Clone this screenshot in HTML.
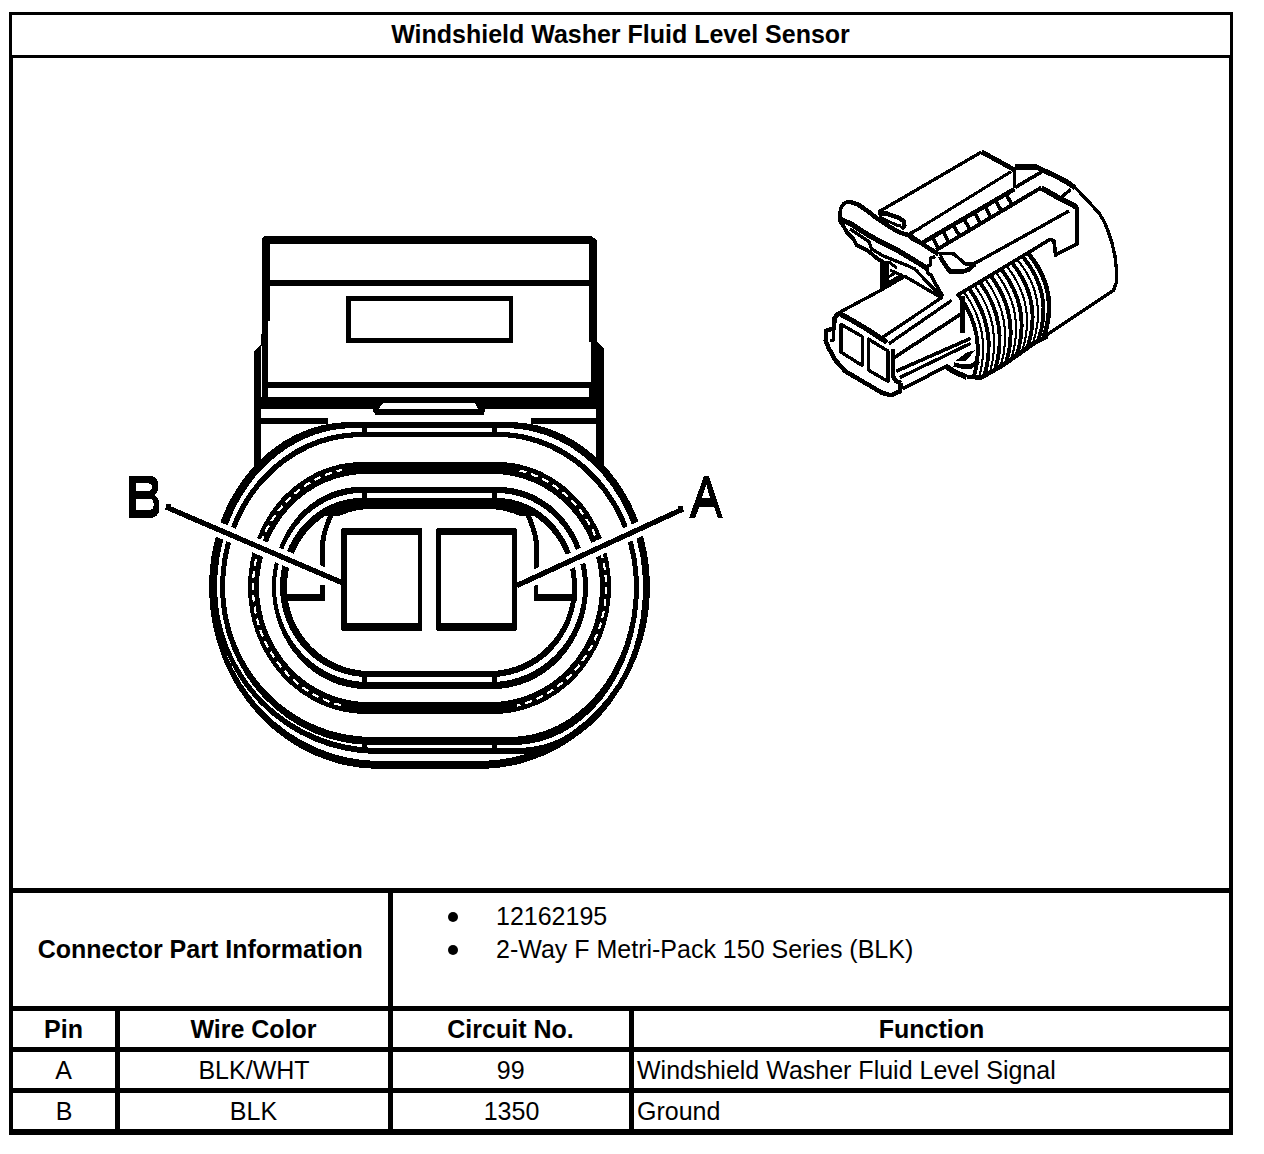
<!DOCTYPE html>
<html><head><meta charset="utf-8"><title>Windshield Washer Fluid Level Sensor</title>
<style>
html,body{margin:0;padding:0;background:#fff;overflow:hidden}
html{width:1264px;height:1154px}
body{width:1264px;height:1154px;position:relative;overflow:hidden;font-family:"Liberation Sans",sans-serif;color:#000}
.l{position:absolute;background:#000}
.t{position:absolute;font-size:25px;line-height:25px;white-space:nowrap;height:25px}
.b{position:absolute;width:10px;height:10px;border-radius:50%;background:#000}
svg{position:absolute;left:0;top:0}
</style></head><body>
<div class="l" style="left:9px;top:12px;width:1224px;height:3px"></div>
<div class="l" style="left:9px;top:12px;width:3px;height:46px"></div>
<div class="l" style="left:1230px;top:12px;width:3px;height:46px"></div>
<div class="l" style="left:9px;top:55px;width:1224px;height:3px"></div>
<div class="l" style="left:9px;top:58px;width:4px;height:1077px"></div>
<div class="l" style="left:1229px;top:58px;width:4px;height:1077px"></div>
<div class="l" style="left:9px;top:888px;width:1224px;height:5px"></div>
<div class="l" style="left:9px;top:1006px;width:1224px;height:5px"></div>
<div class="l" style="left:9px;top:1047px;width:1224px;height:5px"></div>
<div class="l" style="left:9px;top:1088px;width:1224px;height:5px"></div>
<div class="l" style="left:9px;top:1129px;width:1224px;height:6px"></div>
<div class="l" style="left:388px;top:888px;width:5px;height:247px"></div>
<div class="l" style="left:115px;top:1006px;width:5px;height:129px"></div>
<div class="l" style="left:629px;top:1006px;width:5px;height:129px"></div>
<div class="t" style="top:21.84px;font-weight:bold;left:380.5px;width:480px;text-align:center;">Windshield Washer Fluid Level Sensor</div>
<div class="t" style="top:936.84px;font-weight:bold;left:30.19999999999999px;width:340px;text-align:center;">Connector Part Information</div>
<div class="t" style="top:903.84px;left:496px;">12162195</div>
<div class="t" style="top:936.84px;left:496px;">2-Way F Metri-Pack 150 Series (BLK)</div>
<div class="t" style="top:1016.84px;font-weight:bold;left:-106.5px;width:340px;text-align:center;">Pin</div>
<div class="t" style="top:1016.84px;font-weight:bold;left:83.5px;width:340px;text-align:center;">Wire Color</div>
<div class="t" style="top:1016.84px;font-weight:bold;left:340.5px;width:340px;text-align:center;">Circuit No.</div>
<div class="t" style="top:1016.84px;font-weight:bold;left:761.5px;width:340px;text-align:center;">Function</div>
<div class="t" style="top:1057.84px;left:-106.5px;width:340px;text-align:center;">A</div>
<div class="t" style="top:1057.84px;left:84px;width:340px;text-align:center;">BLK/WHT</div>
<div class="t" style="top:1057.84px;left:340.7px;width:340px;text-align:center;">99</div>
<div class="t" style="top:1057.84px;left:637px;">Windshield Washer Fluid Level Signal</div>
<div class="t" style="top:1098.84px;left:-106px;width:340px;text-align:center;">B</div>
<div class="t" style="top:1098.84px;left:83.5px;width:340px;text-align:center;">BLK</div>
<div class="t" style="top:1098.84px;left:341.5px;width:340px;text-align:center;">1350</div>
<div class="t" style="top:1098.84px;left:637px;">Ground</div>
<div class="b" style="left:448px;top:912px"></div>
<div class="b" style="left:448px;top:945px"></div>
<svg width="1264" height="1154" viewBox="0 0 1264 1154" shape-rendering="crispEdges" fill="#000">
<!--MAIN-->
<path fill-rule="evenodd" d="M350,422 H509.0 A141.0,165 0 0 1 650,587 A171.0,182 0 0 1 479.0,769 H380 A171,182 0 0 1 209,587 A141,165 0 0 1 350,422 Z M352,425.5 H507.0 A138.5,161.5 0 0 1 645.5,587 A166.5,174 0 0 1 479.0,761 H380 A166.5,174 0 0 1 213.5,587 A138.5,161.5 0 0 1 352,425.5 Z"/>
<path fill-rule="evenodd" d="M352,424.5 H507.0 A139.5,162.5 0 0 1 646.5,587 A126.5,167 0 0 1 520,754 H378 A165.5,167 0 0 1 212.5,587 A139.5,162.5 0 0 1 352,424.5 Z M354,428 H505.0 A138.0,159 0 0 1 643,587 A125,161 0 0 1 518,748 H378 A161,161 0 0 1 217,587 A137,159 0 0 1 354,428 Z"/>
<path fill-rule="evenodd" d="M360,432 H499.0 A140.0,155 0 0 1 639,587 A125,158 0 0 1 514,745 H372 A152,158 0 0 1 220,587 A140,155 0 0 1 360,432 Z M362,437 H497.0 A137.0,150 0 0 1 634,587 A124,150 0 0 1 510,737 H372 A147,150 0 0 1 225,587 A137,150 0 0 1 362,437 Z"/>
<path fill-rule="evenodd" d="M362,462 H497.0 A114.0,125 0 0 1 611,587 A118.0,127 0 0 1 493.0,714 H366 A118,127 0 0 1 248,587 A114,125 0 0 1 362,462 Z M366,474 H493.0 A107.0,113 0 0 1 600,587 A109.0,115 0 0 1 491.0,702 H368 A109,115 0 0 1 259,587 A107,113 0 0 1 366,474 Z"/>
<path fill-rule="evenodd" d="M360,487 H499.0 A89.0,100 0 0 1 588,587 A95.0,102 0 0 1 493.0,689 H366 A94,102 0 0 1 272,587 A88,100 0 0 1 360,487 Z M362,493 H497.0 A86.0,94 0 0 1 583,587 A92.0,95 0 0 1 491.0,682 H368 A92,95 0 0 1 276,587 A86,94 0 0 1 362,493 Z"/>
<path fill-rule="evenodd" d="M362,498 H497.0 A80.0,89 0 0 1 577,587 A86.0,90 0 0 1 491.0,677 H368 A88,90 0 0 1 280,587 A82,89 0 0 1 362,498 Z M366,504 H493.0 A79.0,83 0 0 1 572,587 A83.0,84 0 0 1 489.0,671 H370 A83,84 0 0 1 287,587 A79,83 0 0 1 366,504 Z"/>
<clipPath id="c5"><rect x="270" y="490" width="320" height="26"/></clipPath>
<g clip-path="url(#c5)"><path fill-rule="evenodd" d="M366,503 H493.0 A80.0,84 0 0 1 573,587 A84.0,85 0 0 1 489.0,672 H370 A84,85 0 0 1 286,587 A80,84 0 0 1 366,503 Z M372,509 H487.0 A79.5,78 0 0 1 566.5,587 A79.5,79 0 0 1 487.0,666 H372 A79.5,79 0 0 1 292.5,587 A79.5,78 0 0 1 372,509 Z"/></g>
<clipPath id="c3"><path d="M230,450 H342 V730 H230 Z M517,450 H630 V730 H517 Z"/></clipPath>
<path clip-path="url(#c3)" fill="none" stroke="#fff" stroke-width="2.2" stroke-dasharray="7 5" d="M364,467.5 H495.0 A111.0,119.5 0 0 1 606,587 A114.0,121.5 0 0 1 492.0,708.5 H367 A114,121.5 0 0 1 253,587 A111,119.5 0 0 1 364,467.5 Z"/>
<rect fill="#000" x="362" y="427.5" width="5" height="5.0"/>
<rect fill="#000" x="491.5" y="427.5" width="5.0" height="5.0"/>
<rect fill="#000" x="362" y="492.0" width="5" height="6.5"/>
<rect fill="#000" x="491.5" y="492.0" width="5.0" height="6.5"/>
<rect fill="#000" x="362" y="676.0" width="5" height="6.5"/>
<rect fill="#000" x="491.5" y="676.0" width="5.0" height="6.5"/>
<rect fill="#000" x="362" y="744.0" width="5" height="5.0"/>
<rect fill="#000" x="491.5" y="744.0" width="5.0" height="5.0"/>
<path fill="none" stroke="#000" stroke-width="5" d="M332,513 Q326,526 324,535 Q322.5,541 322.5,548 V570 M527,513 Q533,526 535,535 Q536.5,541 536.5,548 V570.5"/>
<polygon fill="#000" points="320,584.5 325,584.5 325,601 287,601 287,593.5 320,593.5"/>
<polygon fill="#000" points="534,585 538,585 538,594 577,594 577,601 534,601"/>
<polygon fill="#000" points="264,236 591,236 597,240 597,244 262,244 262,239"/>
<rect fill="#000" x="262" y="240" width="8" height="81"/>
<rect fill="#000" x="262" y="321" width="6" height="77"/>
<rect fill="#000" x="261" y="334" width="2" height="12"/>
<polygon fill="#000" points="260,345 261,345 261,470 254,470 254,351"/>
<rect fill="#000" x="589" y="240" width="8" height="102"/>
<polygon fill="#000" points="591,342 597,342 604,349 604,398 591,398"/>
<rect fill="#000" x="589" y="382" width="3" height="16"/>
<rect fill="#000" x="596" y="397" width="8" height="71"/>
<rect fill="#000" x="270" y="280" width="319" height="6"/>
<path fill-rule="evenodd" d="M346,296 H513 V343 H346 Z M351,301 V338 H508.5 V301 Z"/>
<rect fill="#000" x="268" y="382" width="323" height="6"/>
<rect fill="#000" x="261" y="397" width="343" height="12"/>
<polygon fill="#fff" points="383,403 475,403 478,408.5 379,408.5"/>
<polygon fill="#000" points="373,408.5 485,408.5 484,415 375.5,415 373,411"/>
<rect fill="#000" x="261" y="418.3" width="67" height="5.699999999999989"/>
<rect fill="#000" x="530.5" y="418.3" width="66.5" height="5.699999999999989"/>
<path fill="none" stroke="#fff" stroke-width="15" d="M190,517.3 L342,582.7 M669,515.5 L517,585.5"/>
<path fill-rule="evenodd" d="M344,528 H422 V631 H344 Q341,631 341,628 V531 Q341,528 344,528 Z M346.5,535 V623 H418 V535 Z"/>
<path fill-rule="evenodd" d="M439,528 H514 Q517,528 517,531 V628 Q517,631 514,631 H439 Q436,631 436,628 V531 Q436,528 439,528 Z M441,535 V623 H512.2 V535 Z"/>
<path fill="none" stroke="#000" stroke-width="5.2" d="M166,507 L342,582.7 M683,509 L517,585.5"/>
<rect fill="#000" x="166" y="504" width="5" height="5"/>
<rect fill="#000" x="678" y="506" width="5" height="5"/>
<path fill-rule="evenodd" d="M129,477 Q129,476 130,476 H151 Q158,477 158,484 V488 Q158,493 154,495 Q159,497 159,503 V509 Q159,517 151,518 H130 Q129,518 129,517 Z M136,483.4 V491 H148 Q151.8,491 151.8,487.2 Q151.8,483.4 148,483.4 Z M136,498.6 V510 H149 Q153.7,510 153.7,504.3 Q153.7,498.6 149,498.6 Z"/>
<path fill-rule="evenodd" d="M689,518 L704,476 H709 L723,518 H718 L714,507 H699.4 L695,518 Z M702,498 L706.3,484.5 L710,498 Z"/>
<!--/MAIN-->
<g fill="none" stroke="#000" stroke-linejoin="round" stroke-linecap="butt"><path d="M1014.5,167 L1036,167 L1043.7,170.5 L1055.6,176 L1067.5,182.4 L1075.4,188" stroke-width="5.10"/>
<path d="M1075.4,188 L1083.3,196 L1091.2,204.6 L1099.1,213.3 L1104,221.2 L1108,231 L1112,243 L1115,256 L1116.5,270 L1116.5,282 L1113.5,290.5 L1045,336" stroke-width="3.30"/>
<path d="M878.5,212 L981.7,151.9" stroke-width="3.30"/>
<path d="M981.7,151.9 L1013.8,169.5" stroke-width="4.80"/>
<path d="M1014.5,168 L1014.5,188.3" stroke-width="3.00"/>
<path d="M1011,171.6 L910,234" stroke-width="3.00"/>
<path d="M1041.4,172 L1015,187.5" stroke-width="3.60"/>
<path d="M1014.5,189 L922,243" stroke-width="4.50"/>
<path d="M1041.4,187.5 L936,250.2" stroke-width="3.90"/>
<path d="M1006,194.0116 L1012,204.98712000000006" stroke-width="3.60"/>
<path d="M995.5,200.2024 L1001.5,211.23252000000005" stroke-width="3.60"/>
<path d="M985,206.3932 L991,217.47792000000004" stroke-width="3.60"/>
<path d="M974.5,212.584 L980.5,223.72332000000006" stroke-width="3.60"/>
<path d="M964,218.7748 L970,229.96872000000005" stroke-width="3.60"/>
<path d="M953.5,224.9656 L959.5,236.21412000000004" stroke-width="3.60"/>
<path d="M943,231.1564 L949,242.45952000000005" stroke-width="3.60"/>
<path d="M932.5,237.3472 L938.5,248.70492000000004" stroke-width="3.60"/>
<path d="M1041.4,188 L1059.6,198.3 L1073.8,205.4 L1077,208" stroke-width="5.40"/>
<path d="M1070.6,189.6 L1062,196.7" stroke-width="3.30"/>
<path d="M1077,207 L1077,243.8 L1055.5,255 L1054,240.5 L1050,239.5 L1047,241.3 L956.5,295.7" stroke-width="3.60"/>
<path d="M1069,211 L980,260.5 L973,264 L965.3,264 L954,254 L946.3,253.3 L938.5,254.3" stroke-width="3.30"/>
<path d="M974.6,264.4 L968,270 L962,271.6 L950,271.6 L943.8,262.8 L940,256.5" stroke-width="4.50"/>
<path d="M848.9,201.4 L858,204.5 L867.5,210.9 L875.4,217.2 L889.6,226.7 L899.1,232.2 L909.4,235.4 L920,242.5 L938.5,254.3" stroke-width="4.50"/>
<path d="M848.9,201.4 L843.7,203.7 L841,207.7 L839.8,213.2 L839.8,221.1 L842.9,225.1" stroke-width="3.60"/>
<path d="M841,219.6 L851.6,224.3 L867.5,234.6 L883.3,243.3 L899.1,251.2 L920,263.9 L927.5,269" stroke-width="5.25"/>
<path d="M842.9,225.1 L846.9,232.2 L853.2,238.5 L856.4,244.9 L867.5,250.4 L877,258.3 L883.3,262.3" stroke-width="3.90"/>
<path d="M850,229 L869,241.7 L871.4,248.8 L883.3,256 L907,265.4 L915.6,269.3" stroke-width="3.30"/>
<path d="M878.5,214.8 L885.7,213.2 L899.1,218 L903.9,221.1 L904.3,225.9 L901.5,229" stroke-width="4.50"/>
<path d="M879,217 L897,225.2 L901,225.5" stroke-width="3.00"/>
<path d="M920,228.3 L911,233 L911,238.5 L920,243.3" stroke-width="3.30"/>
<path d="M935.5,256.5 L930.6,258.2 L930.6,264.6 L927.5,266.1 L927.5,272.5 L931.4,275.6 L935.4,283.5 L940.1,292.2 L943.3,296.2" stroke-width="3.60"/>
<path d="M880,261 H888.5 V286 L880,290.5 Z" fill="#000" stroke="none"/>
<path d="M888.5,283 L903,274.5" stroke-width="3.60"/>
<path d="M888.5,277 L897,271.5" stroke-width="3.00"/>
<path d="M890,270 L905,277" stroke-width="3.00"/>
<path d="M889,262 L897,268" stroke-width="3.00"/>
<path d="M838.4,313 L880.8,290.3 L904.8,276.3 L941.5,297.8 L881,338.3" stroke-width="3.30"/>
<path d="M838.4,313 L851.6,320 L867.5,329.5 L879.3,337.4 L887.2,342.4" stroke-width="5.10"/>
<path d="M915.6,269.3 L918,272.5 L940.9,296.2" stroke-width="3.30"/>
<path d="M838.4,313 L834.6,318.1 L833.9,328.2 L826.3,330.8 L825.7,340.9 L828.9,348.5 L835.2,359.9 L845.3,371.3 L882,392.8 L890.9,395.3 L899.7,391.5 L901,382.7" stroke-width="4.50"/>
<path d="M833.9,328.2 L833.9,340 L830,341" stroke-width="3.00"/>
<path d="M841.1,324.4 L862.2,336.5 L862.2,365.5 L841.1,352.3 Z" stroke-width="3.30"/>
<path d="M868.3,339 L887.9,351 L887.9,381.4 L868.3,370 Z" stroke-width="3.30"/>
<path d="M892.8,348.5 L892.8,376.3 L896,381 L901,383" stroke-width="4.50"/>
<path d="M888.8,343.8 L951.6,300.4" stroke-width="3.30"/>
<path d="M894.7,357.3 L960.5,314.3" stroke-width="3.60"/>
<path d="M896,371.3 L970.6,338.4" stroke-width="3.60"/>
<path d="M899.7,377.6 L970.6,343.4" stroke-width="3.30"/>
<path d="M902.3,389 L946.6,366.2" stroke-width="3.60"/>
<path d="M962.5,296 L962.5,333" stroke-width="5.10"/>
<path d="M945.5,366 L954,371.6 L966.6,377.2" stroke-width="5.40"/>
<path d="M955.2,361 L966,361 L974.8,350.4 L966.6,352.5 Z" fill="#000" stroke="none"/>
<path d="M954,364.5 L962,366.5 L971,366.5 L979,361" stroke-width="4.50"/>
<path d="M966.6,377.2 L981.7,377.3 L992.8,371 L1003.8,364.6 L1035,342.5 L1047.6,336.2" stroke-width="4.50"/>
<path d="M959.0,295.7 Q986.2,332.6 974.0,376.7" stroke-width="3.90"/>
<path d="M964.4,292.5 Q991.8,331.1 979.3,376.8" stroke-width="2.10"/>
<path d="M969.7,289.3 Q997.5,328.6 984.7,375.1" stroke-width="3.90"/>
<path d="M975.1,286.1 Q1003.2,325.5 990.0,372.1" stroke-width="2.10"/>
<path d="M980.4,282.8 Q1008.8,322.3 995.4,369.0" stroke-width="3.90"/>
<path d="M985.8,279.6 Q1014.5,319.1 1000.7,365.9" stroke-width="2.10"/>
<path d="M991.1,276.4 Q1020.1,315.7 1006.1,362.5" stroke-width="3.90"/>
<path d="M996.5,273.2 Q1025.8,312.1 1011.4,358.7" stroke-width="2.10"/>
<path d="M1001.8,270.0 Q1031.4,308.6 1016.8,354.9" stroke-width="3.90"/>
<path d="M1007.2,266.8 Q1037.1,305.0 1022.1,351.1" stroke-width="2.10"/>
<path d="M1012.5,263.5 Q1042.7,301.4 1027.5,347.3" stroke-width="3.90"/>
<path d="M1017.9,260.3 Q1048.4,297.8 1032.8,343.6" stroke-width="2.10"/>
<path d="M1023.2,257.1 Q1054.0,294.6 1038.2,340.4" stroke-width="3.90"/>
<path d="M1028.6,253.9 Q1059.7,291.6 1043.5,337.7" stroke-width="4.50"/></g>
</svg>
</body></html>
